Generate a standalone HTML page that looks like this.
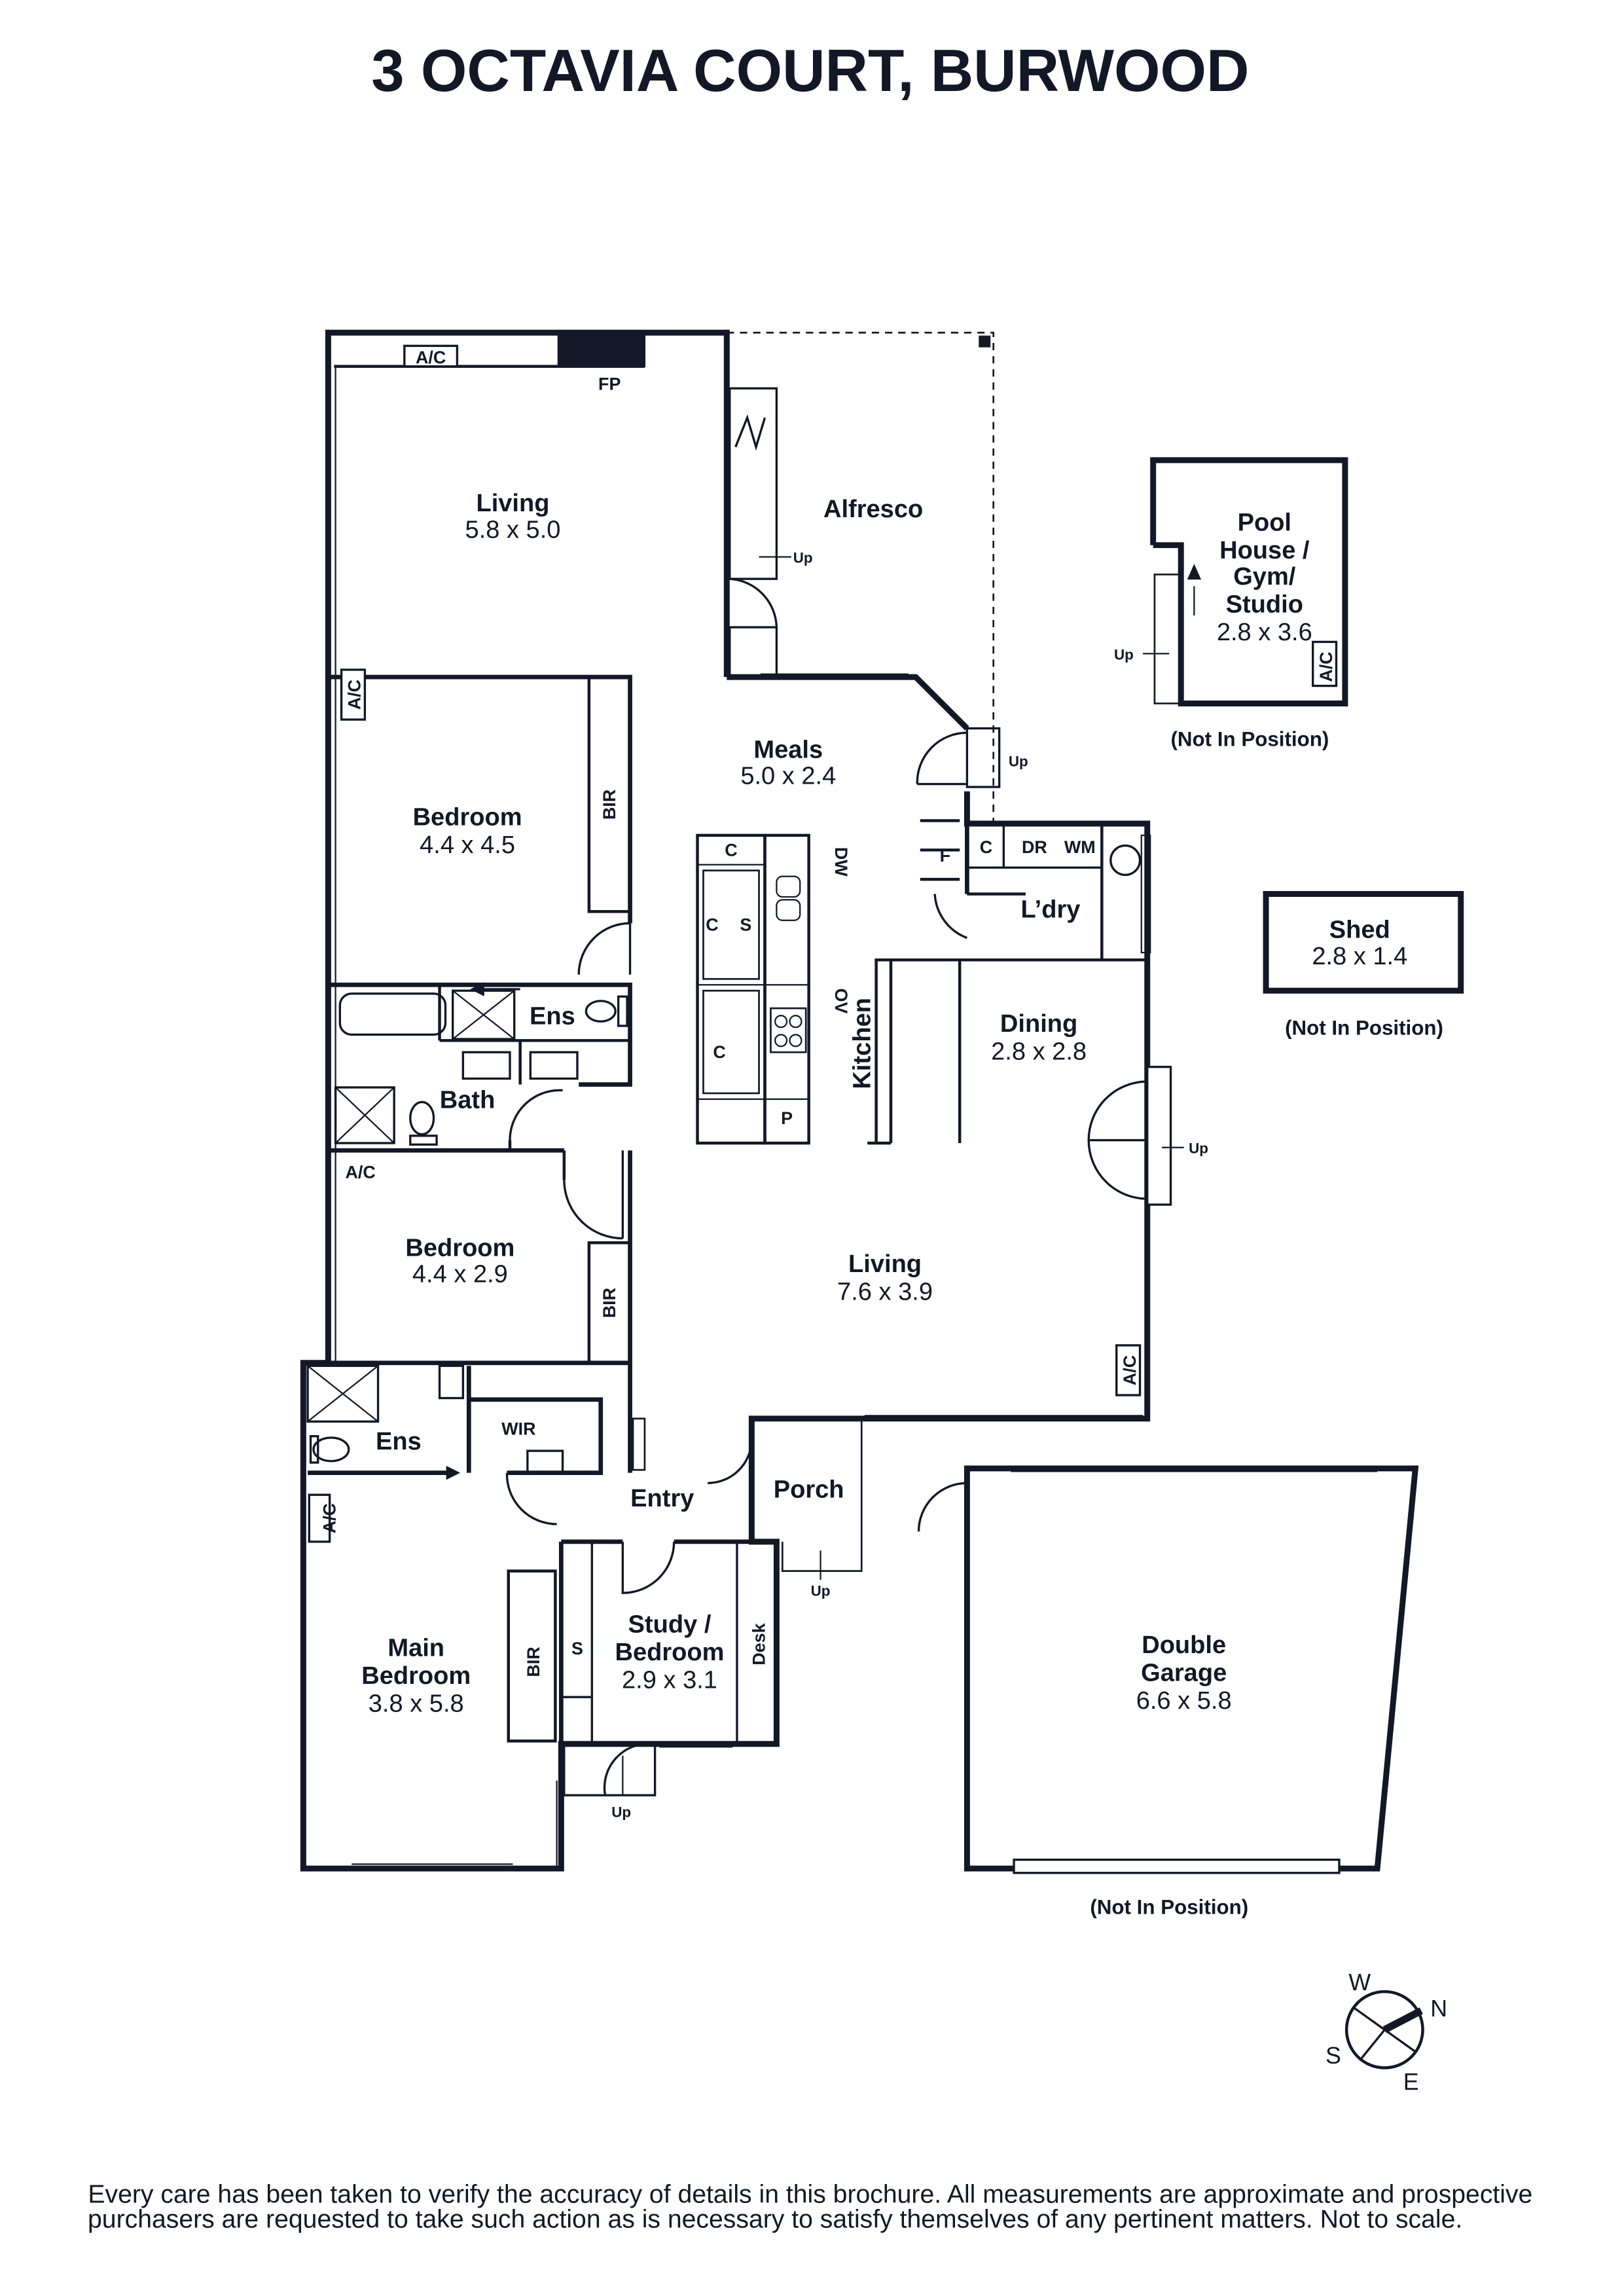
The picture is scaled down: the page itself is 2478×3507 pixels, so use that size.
<!DOCTYPE html>
<html><head><meta charset="utf-8"><style>
html,body{margin:0;padding:0;background:#fff}
svg{display:block}
text{font-family:"Liberation Sans",sans-serif;fill:#121826}
.b{font-weight:bold;font-size:17px}
.r{font-size:17px}
.s{font-weight:bold;font-size:12px}
</style></head><body>
<svg width="2478" height="3507" viewBox="0 0 1107 1566.7" xmlns="http://www.w3.org/2000/svg">
<rect width="1107" height="1567" fill="#fff"/>
<text x="553" y="62" text-anchor="middle" style="font-weight:bold;font-size:40.5px">3 OCTAVIA COURT, BURWOOD</text>
<g fill="none" stroke="#121826" stroke-linejoin="miter">
<polyline stroke-width="4" points="496,462 496,227 224,227 224,930 207,930 207,1275 383,1275 383,1190 530,1190 530,1052 513,1052 513,968 783,968 783,562 660,562 660,540"/>
<polyline stroke-width="4" points="496,462 625,462 660,497"/>
<polyline stroke-width="1.2" stroke-dasharray="5,4" points="496,227 678,227 678,560"/>
<rect x="668" y="229" width="8" height="8" fill="#121826" stroke="none"/>
<line x1="228" y1="250" x2="440" y2="250" stroke-width="2"/>
<rect x="381" y="229" width="59" height="21" fill="#121826"/>
<rect x="276" y="236" width="36" height="14" fill="#fff" stroke-width="1.5"/>
<line x1="229" y1="250" x2="229" y2="930" stroke-width="1"/>
<rect x="498" y="265" width="32" height="130" stroke-width="1.5"/>
<rect x="498" y="428" width="32" height="34" stroke-width="1.5"/>
<path d="M498,395 A34,34 0 0 1 530,428" stroke-width="1.5"/>
<polyline points="502,305 510,285 516,305 522,285" stroke-width="1.5"/>
<line x1="518" y1="380" x2="540" y2="380" stroke-width="1"/>
<polyline stroke-width="3" points="224,462 430,462 430,630"/>
<rect x="402" y="462" width="28" height="160" stroke-width="2"/>
<path d="M395,665 A35,35 0 0 1 430,630" stroke-width="1.5"/>
<line x1="430" y1="630" x2="430" y2="665" stroke-width="1.5"/>
<polyline stroke-width="3" points="224,672 430,672 430,740 395,740"/>
<line x1="300" y1="672" x2="300" y2="710" stroke-width="2"/>
<rect x="232" y="678" width="72" height="28" rx="8" stroke-width="1.5"/>
<rect x="309" y="676" width="42" height="33" stroke-width="1.5"/>
<line x1="309" y1="676" x2="351" y2="709"/><line x1="351" y1="676" x2="309" y2="709"/>
<rect x="316" y="718" width="32" height="18" stroke-width="1.5"/>
<rect x="362" y="718" width="32" height="18" stroke-width="1.5"/>
<line x1="355" y1="710" x2="355" y2="740" stroke-width="2"/>
<line x1="300" y1="710" x2="430" y2="710" stroke-width="2"/>
<ellipse cx="410" cy="690" rx="10" ry="7" stroke-width="1.5"/>
<rect x="422" y="680" width="6" height="20" stroke-width="1.5"/>
<line x1="355" y1="675" x2="325" y2="675" stroke-width="1.5"/>
<polygon points="322,675 330,671 330,679" fill="#121826"/>
<rect x="229" y="742" width="40" height="38" stroke-width="1.5"/>
<line x1="229" y1="742" x2="269" y2="780"/><line x1="269" y1="742" x2="229" y2="780"/>
<ellipse cx="288" cy="763" rx="8" ry="11" stroke-width="1.5"/>
<rect x="280" y="775" width="18" height="6" stroke-width="1.5"/>
<path d="M348,778 A34,34 0 0 1 384,744" stroke-width="1.5"/>
<line x1="348" y1="778" x2="348" y2="785" stroke-width="2"/>
<polyline stroke-width="3" points="224,785 385,785"/>
<polyline stroke-width="3" points="430,785 430,930 224,930"/>
<line x1="385" y1="785" x2="385" y2="805" stroke-width="2"/>
<path d="M385,805 A40,40 0 0 0 425,845" stroke-width="1.5"/>
<line x1="425" y1="785" x2="425" y2="845" stroke-width="1.5"/>
<rect x="402" y="848" width="28" height="82" stroke-width="2"/>
<rect x="233" y="457" width="16" height="34" fill="#fff" stroke-width="1.5"/>
<rect x="210" y="932" width="48" height="38" stroke-width="1.5"/>
<line x1="210" y1="932" x2="258" y2="970"/><line x1="258" y1="932" x2="210" y2="970"/>
<rect x="300" y="932" width="16" height="22" stroke-width="1.5"/>
<ellipse cx="226" cy="989" rx="12" ry="8" stroke-width="1.5"/>
<rect x="212" y="980" width="5" height="18" stroke-width="1.5"/>
<line x1="320" y1="932" x2="320" y2="1005" stroke-width="3"/>
<line x1="210" y1="1005" x2="305" y2="1005" stroke-width="3"/>
<line x1="270" y1="1005" x2="310" y2="1005" stroke-width="1.5"/>
<polygon points="313,1005 305,1001 305,1009" fill="#121826"/>
<polyline stroke-width="3" points="320,955 410,955 410,1005 346,1005"/>
<rect x="360" y="990" width="24" height="15" stroke-width="1.5"/>
<line x1="430" y1="930" x2="430" y2="1005" stroke-width="3"/>
<rect x="432" y="968" width="8" height="35" stroke-width="1.2"/>
<path d="M346,1005 A34,34 0 0 0 380,1040" stroke-width="1.5"/>
<rect x="211" y="1020" width="14" height="32" stroke-width="1.5" fill="#fff"/>
<rect x="347" y="1072" width="32" height="116" stroke-width="2"/>
<line x1="383" y1="1052" x2="425" y2="1052" stroke-width="3"/>
<line x1="460" y1="1052" x2="530" y2="1052" stroke-width="3"/>
<line x1="383" y1="1052" x2="383" y2="1190" stroke-width="3"/>
<path d="M425,1052 L425,1087 A35,35 0 0 0 460,1052" stroke-width="1.5"/>
<rect x="385" y="1190" width="62" height="35" stroke-width="1.5"/>
<path d="M413,1225 A30,30 0 0 1 445,1190" stroke-width="1.5"/>
<line x1="425" y1="1198" x2="425" y2="1225" stroke-width="1"/>
<line x1="404" y1="1052" x2="404" y2="1190" stroke-width="1.5"/>
<line x1="404" y1="1158" x2="383" y2="1158" stroke-width="1.5"/>
<line x1="503" y1="1052" x2="503" y2="1190" stroke-width="1.5"/>
<line x1="380" y1="1215" x2="380" y2="1275" stroke-width="1"/>
<line x1="240" y1="1272" x2="350" y2="1272" stroke-width="1"/>
<line x1="450" y1="1192" x2="500" y2="1192" stroke-width="1"/>
<polyline stroke-width="1.2" points="588,968 588,1072 534,1072 534,1052"/>
<line x1="560" y1="1058" x2="560" y2="1078" stroke-width="1"/>
<path d="M513,982 A30,30 0 0 1 483,1012" stroke-width="1.5"/>
<rect x="476" y="570" width="46" height="210" stroke-width="2"/>
<rect x="522" y="570" width="30" height="210" stroke-width="2"/>
<line x1="476" y1="590" x2="522" y2="590"/>
<line x1="476" y1="672" x2="552" y2="672"/>
<line x1="476" y1="750" x2="552" y2="750"/>
<line x1="522" y1="750" x2="522" y2="780"/>
<rect x="480" y="594" width="38" height="74" stroke-width="1.2"/>
<rect x="480" y="676" width="38" height="70" stroke-width="1.2"/>
<rect x="530" y="598" width="16" height="14" rx="4"/><rect x="530" y="614" width="16" height="14" rx="4"/>
<rect x="526" y="688" width="24" height="30" stroke-width="1.2"/>
<circle cx="533" cy="697" r="4"/><circle cx="543" cy="697" r="4"/><circle cx="533" cy="710" r="4"/><circle cx="543" cy="710" r="4"/>
<polyline stroke-width="2" points="598,780 598,655 783,655"/>
<line x1="608" y1="655" x2="608" y2="780" stroke-width="2"/>
<line x1="592" y1="780" x2="608" y2="780" stroke-width="2"/>
<line x1="655" y1="655" x2="655" y2="780" stroke-width="2"/>
<line x1="660" y1="562" x2="660" y2="610" stroke-width="3"/>
<line x1="660" y1="610" x2="700" y2="610" stroke-width="2"/>
<line x1="752" y1="562" x2="752" y2="655" stroke-width="2"/>
<line x1="685" y1="562" x2="685" y2="592" stroke-width="1.5"/>
<line x1="660" y1="592" x2="752" y2="592" stroke-width="1.5"/>
<ellipse cx="768" cy="587" rx="10" ry="10" stroke-width="1.5"/>
<rect x="779" y="570" width="6" height="80" stroke-width="1"/>
<path d="M638,610 A34,34 0 0 0 660,640" stroke-width="1.5"/>
<line x1="628" y1="560" x2="655" y2="560" stroke-width="2"/>
<line x1="628" y1="580" x2="655" y2="580" stroke-width="2"/>
<line x1="628" y1="600" x2="655" y2="600" stroke-width="2"/>
<rect x="660" y="497" width="22" height="40" stroke-width="1.5"/>
<path d="M626,535 A34,34 0 0 1 660,500" stroke-width="1.5"/>
<line x1="626" y1="535" x2="660" y2="535" stroke-width="1.5"/>
<line x1="519" y1="460" x2="620" y2="460" stroke-width="1"/>
<rect x="783" y="728" width="16" height="94" stroke-width="1.5" fill="#fff"/>
<path d="M783,738 A40,40 0 0 0 743,778 L783,778" stroke-width="1.5"/>
<path d="M783,818 A40,40 0 0 1 743,778" stroke-width="1.5"/>
<line x1="793" y1="783" x2="808" y2="783" stroke-width="1"/>
<rect x="762" y="918" width="16" height="34" fill="#fff" stroke-width="1.5"/>
<line x1="590" y1="966" x2="780" y2="966" stroke-width="1"/>
<polyline stroke-width="4" points="787,372 787,314 918,314 918,480 806,480 806,372 787,372"/>
<rect x="788" y="392" width="17" height="88" stroke-width="1.2"/>
<rect x="896" y="438" width="16" height="30" stroke-width="1.5"/>
<line x1="815" y1="400" x2="815" y2="420" stroke-width="1"/>
<polygon points="815,386 811,395 819,395" fill="#121826"/>
<line x1="780" y1="446" x2="798" y2="446" stroke-width="1"/>
<rect x="864" y="610" width="133" height="66" stroke-width="4"/>
<polygon stroke-width="4" points="660,1002 966,1002 940,1275 660,1275"/>
<rect x="692" y="1269" width="222" height="9" fill="#fff" stroke-width="1.5"/>
<line x1="690" y1="1004" x2="940" y2="1004" stroke-width="1"/>
<path d="M627,1045 A33,33 0 0 1 660,1012" stroke-width="1.5"/>
<circle cx="945" cy="1385" r="26" stroke-width="2"/>
<line x1="924" y1="1370" x2="966" y2="1400" stroke-width="1.5"/>
<line x1="945" y1="1385" x2="928" y2="1406" stroke-width="1.5"/>
<line x1="945" y1="1385" x2="970" y2="1372" stroke-width="5"/>
</g>
<g text-anchor="middle">
<text x="294" y="248" class="s">A/C</text>
<text x="416" y="266" class="s">FP</text>
<text x="350" y="349" class="b">Living</text><text x="350" y="367" class="r">5.8 x 5.0</text>
<text x="596" y="353" class="b">Alfresco</text>
<text x="548" y="384" style="font-size:10px;font-weight:bold">Up</text>
<text x="538" y="517" class="b">Meals</text><text x="538" y="535" class="r">5.0 x 2.4</text>
<text x="695" y="523" style="font-size:10px;font-weight:bold">Up</text>
<text x="319" y="563" class="b">Bedroom</text><text x="319" y="582" class="r">4.4 x 4.5</text>
<text x="377" y="699" class="b">Ens</text>
<text x="319" y="756" class="b">Bath</text>
<text x="246" y="804" class="s">A/C</text>
<text x="314" y="857" class="b">Bedroom</text><text x="314" y="875" class="r">4.4 x 2.9</text>
<text x="604" y="868" class="b">Living</text><text x="604" y="887" class="r">7.6 x 3.9</text>
<text x="709" y="704" class="b">Dining</text><text x="709" y="723" class="r">2.8 x 2.8</text>
<text x="717" y="626" class="b">L’dry</text>
<text x="645" y="588" class="s">F</text><text x="673" y="582" class="s">C</text>
<text x="706" y="582" class="s">DR</text><text x="737" y="582" class="s">WM</text>
<text x="499" y="584" class="s">C</text><text x="486" y="635" class="s">C</text><text x="509" y="635" class="s">S</text>
<text x="491" y="722" class="s">C</text><text x="537" y="767" class="s">P</text>
<text x="818" y="787" style="font-size:10px;font-weight:bold">Up</text>
<text x="272" y="989" class="b">Ens</text>
<text x="354" y="979" class="s">WIR</text>
<text x="452" y="1028" class="b">Entry</text>
<text x="552" y="1022" class="b">Porch</text>
<text x="560" y="1089" style="font-size:10px;font-weight:bold">Up</text>
<text x="284" y="1130" class="b">Main</text><text x="284" y="1149" class="b">Bedroom</text><text x="284" y="1168" class="r">3.8 x 5.8</text>
<text x="394" y="1129" class="s">S</text>
<text x="457" y="1114" class="b">Study /</text><text x="457" y="1133" class="b">Bedroom</text><text x="457" y="1152" class="r">2.9 x 3.1</text>
<text x="424" y="1240" style="font-size:10px;font-weight:bold">Up</text>
<text x="808" y="1128" class="b">Double</text><text x="808" y="1147" class="b">Garage</text><text x="808" y="1166" class="r">6.6 x 5.8</text>
<text x="798" y="1306" style="font-weight:bold;font-size:14px">(Not In Position)</text>
<text x="863" y="362" class="b">Pool</text><text x="863" y="381" class="b">House /</text><text x="863" y="399" class="b">Gym/</text><text x="863" y="418" class="b">Studio</text><text x="863" y="437" class="r">2.8 x 3.6</text>
<text x="767" y="450" style="font-size:10px;font-weight:bold">Up</text>
<text x="853" y="509" style="font-weight:bold;font-size:14px">(Not In Position)</text>
<text x="928" y="640" class="b">Shed</text><text x="928" y="658" class="r">2.8 x 1.4</text>
<text x="931" y="706" style="font-weight:bold;font-size:14px">(Not In Position)</text>
<text x="928" y="1358" style="font-size:16px">W</text>
<text x="982" y="1376" style="font-size:16px">N</text>
<text x="910" y="1408" style="font-size:16px">S</text>
<text x="963" y="1426" style="font-size:16px">E</text>
</g>
<g>
<text transform="translate(246,474) rotate(-90)" text-anchor="middle" class="s">A/C</text>
<text transform="translate(420,549) rotate(-90)" text-anchor="middle" class="s">BIR</text>
<text transform="translate(420,889) rotate(-90)" text-anchor="middle" class="s">BIR</text>
<text transform="translate(229,1036) rotate(-90)" text-anchor="middle" class="s">A/C</text>
<text transform="translate(368,1134) rotate(-90)" text-anchor="middle" class="s">BIR</text>
<text transform="translate(522,1122) rotate(-90)" text-anchor="middle" class="s">Desk</text>
<text transform="translate(570,588) rotate(90)" text-anchor="middle" class="s">DW</text>
<text transform="translate(570,683) rotate(90)" text-anchor="middle" class="s">OV</text>
<text transform="translate(594,712) rotate(-90)" text-anchor="middle" style="font-weight:bold;font-size:17px">Kitchen</text>
<text transform="translate(775,935) rotate(-90)" text-anchor="middle" class="s">A/C</text>
<text transform="translate(909,455) rotate(-90)" text-anchor="middle" class="s">A/C</text>
</g>
<text x="553" y="1503" text-anchor="middle" style="font-size:17.5px">Every care has been taken to verify the accuracy of details in this brochure. All measurements are approximate and prospective</text>
<text x="529" y="1520" text-anchor="middle" style="font-size:17.5px">purchasers are requested to take such action as is necessary to satisfy themselves of any pertinent matters. Not to scale.</text>
</svg>
</body></html>
